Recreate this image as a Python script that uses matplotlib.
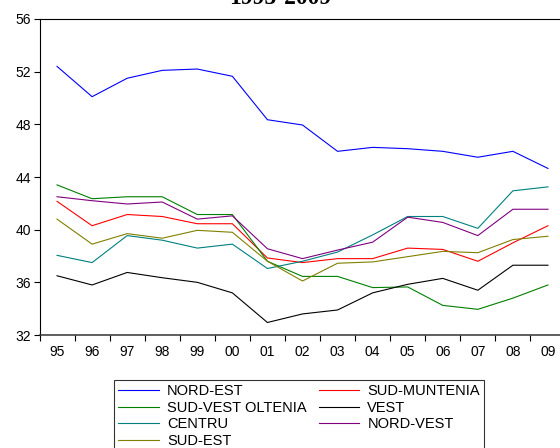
import matplotlib
matplotlib.use("Agg")
import matplotlib.pyplot as plt

plt.rcParams["font.family"] = ["Liberation Sans", "DejaVu Sans"]

years = ["95", "96", "97", "98", "99", "00", "01", "02",
         "03", "04", "05", "06", "07", "08", "09"]

nord_est     = [52.4, 50.1, 51.5, 52.1, 52.2, 51.65, 48.35, 47.95, 45.95, 46.25, 46.15, 45.95, 45.5, 45.95, 44.65]
sud_muntenia = [42.15, 40.3, 41.15, 41.0, 40.45, 40.45, 37.85, 37.5, 37.8, 37.8, 38.6, 38.5, 37.6, 39.0, 40.3]
sud_vest     = [43.4, 42.35, 42.5, 42.5, 41.15, 41.15, 37.6, 36.45, 36.45, 35.6, 35.65, 34.25, 33.95, 34.8, 35.8]
vest         = [36.5, 35.8, 36.75, 36.35, 36.0, 35.2, 32.95, 33.6, 33.9, 35.2, 35.85, 36.3, 35.4, 37.3, 37.3]
centru       = [38.05, 37.5, 39.55, 39.2, 38.6, 38.9, 37.05, 37.6, 38.3, 39.6, 41.0, 41.0, 40.1, 42.95, 43.25]
nord_vest    = [42.5, 42.2, 41.95, 42.1, 40.8, 41.05, 38.55, 37.8, 38.45, 39.05, 40.95, 40.55, 39.55, 41.55, 41.55]
sud_est      = [40.8, 38.9, 39.7, 39.35, 39.95, 39.8, 37.6, 36.1, 37.45, 37.55, 37.95, 38.35, 38.25, 39.25, 39.5]

series = [
    ("NORD-EST", nord_est, "#0000FF"),
    ("SUD-MUNTENIA", sud_muntenia, "#FF0000"),
    ("SUD-VEST OLTENIA", sud_vest, "#008000"),
    ("VEST", vest, "#000000"),
    ("CENTRU", centru, "#008080"),
    ("NORD-VEST", nord_vest, "#800080"),
    ("SUD-EST", sud_est, "#808000"),
]

W, H = 560, 448
fig = plt.figure(figsize=(W / 100, H / 100), dpi=100)
# plot frame runs past the right edge of the canvas
ax = fig.add_axes([39.5 / W, 113 / H, 526 / W, 316 / H])

x = list(range(len(years)))
handles = {}
for name, vals, col in series:
    (ln,) = ax.plot(x, vals, color=col, linewidth=0.8, label=name)
    handles[name] = ln

ax.set_xlim(-0.5, len(years) - 0.5)
ax.set_ylim(32, 56)
ax.set_yticks(range(32, 57, 4))

# tick marks sit between the years, labels centred on them
ax.set_xticks([i - 0.5 for i in range(len(years) + 1)])
ax.set_xticklabels([])
ax.set_xticks(x, minor=True)
ax.set_xticklabels(years, minor=True)
ax.tick_params(axis="x", which="major", direction="out", length=4, width=0.8)
ax.tick_params(axis="x", which="minor", length=0, pad=7, labelsize=10)
ax.tick_params(axis="y", direction="out", length=4, width=0.8, labelsize=10, pad=2)

for s in ax.spines.values():
    s.set_linewidth(0.8)
ax.spines["bottom"].set_linewidth(1.1)
ax.spines["bottom"].set_color("#333333")

fig.text(0.5, 1 - 4 / H, "1995-2009", ha="center", va="baseline",
         fontsize=17, fontweight="bold", family=["Liberation Serif", "DejaVu Serif"])

order = ["NORD-EST", "SUD-VEST OLTENIA", "CENTRU", "SUD-EST",
         "SUD-MUNTENIA", "VEST", "NORD-VEST"]
leg = fig.legend([handles[n] for n in order], order, ncol=2,
                 loc="upper left", bbox_to_anchor=(114 / W, 1 - 380 / H),
                 frameon=True, fancybox=False, edgecolor="black",
                 fontsize=10.5, handlelength=2.8, handletextpad=0.55,
                 columnspacing=0.8, labelspacing=0.17, borderpad=0.3,
                 borderaxespad=0)
leg.get_frame().set_linewidth(0.8)

fig.savefig("out.png", dpi=100)
